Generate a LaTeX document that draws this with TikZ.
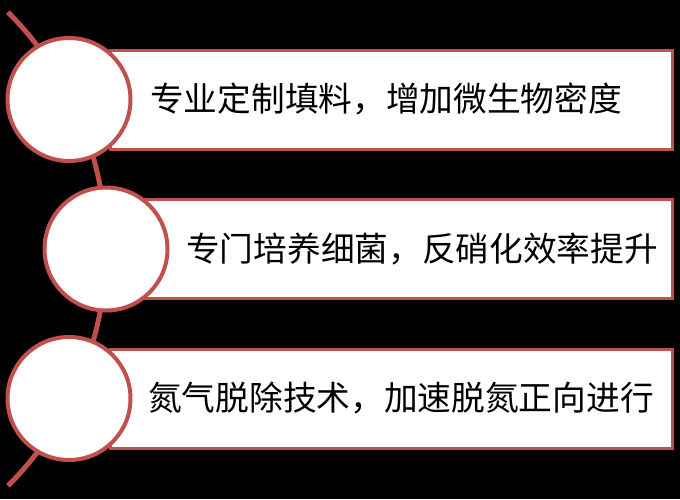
\documentclass[tikz,border=0pt]{standalone}
\usepackage{fontspec}
\newfontfamily\cjk{Noto Sans CJK SC}
\definecolor{rost}{HTML}{C0504D}
\begin{document}
\begin{tikzpicture}[x=1pt,y=-1pt,
        bogen/.style={rost,line width=5pt},
        balken/.style={draw=rost,fill=white,line width=3pt,minimum width=562pt,minimum height=99pt,inner sep=0pt},
        kreis/.style={circle,draw=rost,fill=white,line width=4pt,minimum size=123pt,inner sep=0pt},
        schrift/.style={anchor=west,inner sep=0pt,font=\cjk\fontsize{33.7}{40}\selectfont}]
            \fill[black] (0,0) rectangle (680,499);
            \useasboundingbox (0,0) rectangle (680,499);

            % Bogen
            \coordinate (oben) at (7.9,12.1);
            \draw[bogen] (oben) arc[start angle=-45, end angle=45, radius=335];

            % Balken
            \node[balken] (b1) at (391,99.5) {};
            \node[balken] (b2) at (391,249) {};
            \node[balken] (b3) at (391,398.5) {};

            % Kreise
            \node[kreis] (k1) at (69,99.5) {};
            \node[kreis] (k2) at (106,249) {};
            \node[kreis] (k3) at (69,398.5) {};

            % Beschriftungen
            \node[schrift] (t1) at (150,99) {专业定制填料，增加微生物密度};
            \node[schrift] (t2) at (186,249) {专门培养细菌，反硝化效率提升};
            \node[schrift] (t3) at (148,398) {氮气脱除技术，加速脱氮正向进行};
        \end{tikzpicture}
\end{document}
